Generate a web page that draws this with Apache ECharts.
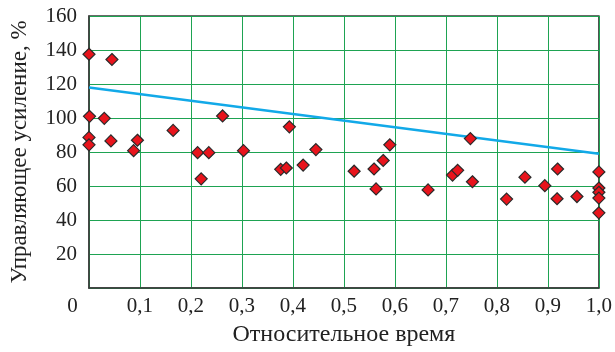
<!DOCTYPE html>
<html>
<head>
<meta charset="utf-8">
<script src="https://cdn.jsdelivr.net/npm/echarts@6/dist/echarts.min.js"></script>
<style>
  html, body { margin: 0; padding: 0; background: #fff; }
  #chart { width: 615px; height: 352px; }
</style>
</head>
<body>
<div id="chart"></div>
<script>
// точки: относительное время / управляющее усиление, %
var relTime = [0, 0.045, 0.001, 0.03, 0, 0, 0.043, 0.165, 0.095, 0.0875,
  0.262, 0.213, 0.235, 0.22, 0.303, 0.393, 0.376, 0.387, 0.42, 0.445,
  0.52, 0.559, 0.577, 0.59, 0.563, 0.665, 0.713, 0.723, 0.748, 0.752,
  0.819, 0.855, 0.894, 0.919, 0.918, 0.957, 1, 1, 1, 1, 1];
var gain = [137.5, 134.4, 101, 99.8, 88.6, 84.2, 86.5, 92.7, 86.9, 80.8,
  101.2, 79.6, 79.6, 64.2, 80.8, 94.8, 69.8, 70.6, 72.3, 81.4,
  68.7, 70, 75, 84.2, 58.3, 57.7, 66.4, 69.2, 87.9, 62.5,
  52.3, 65.2, 60.2, 70, 52.5, 53.8, 68.3, 58.8, 56.3, 52.9, 44.2];

// линия тренда
var trendX = [0, 1];
var trendY = [118, 79];

var yTicks = [20, 40, 60, 80, 100, 120, 140, 160];

var pts = relTime.map(function (t, i) { return [t, gain[i]]; });
var trend = trendX.map(function (t, i) { return [t, trendY[i]]; });

var font = 'Liberation Serif';
var green = '#1ea352';

var chart = echarts.init(document.getElementById('chart'));
chart.setOption({
  animation: false,
  textStyle: { fontFamily: font },
  grid: {
    left: 86, right: 15, top: 16, bottom: 59,
    show: true, borderColor: '#3a3a3a', borderWidth: 1.5
  },
  xAxis: {
    type: 'value',
    min: 0, max: 1, interval: 0.1,
    name: 'Относительное время',
    nameLocation: 'middle',
    nameGap: 35,
    nameTextStyle: { color: '#222', fontSize: 24, fontFamily: font },
    axisLine: { show: true, lineStyle: { color: '#3a3a3a', width: 1.5 } },
    axisTick: { show: false },
    splitLine: { show: true, lineStyle: { color: green, width: 1 } },
    axisLabel: {
      color: '#222', fontSize: 21, fontFamily: font, margin: 8,
      formatter: function (v) {
        if (v === 0) return '{z|0}';
        return v.toFixed(1).replace('.', ',');
      },
      rich: { z: { fontSize: 21, fontFamily: font, color: '#222', padding: [0, 33, 0, 0] } }
    }
  },
  yAxis: {
    type: 'value',
    min: 0, max: 160, interval: 20,
    name: 'Управляющее усиление, %',
    nameLocation: 'middle',
    nameGap: 58,
    nameTextStyle: { color: '#222', fontSize: 23, fontFamily: font },
    axisLine: { show: true, lineStyle: { color: '#3a3a3a', width: 1.5 } },
    axisTick: { show: false },
    splitLine: { show: true, lineStyle: { color: green, width: 1 } },
    axisLabel: {
      color: '#222', fontSize: 21, fontFamily: font, margin: 12,
      formatter: function (v) { return yTicks.indexOf(v) >= 0 ? String(v) : ''; }
    }
  },
  series: [
    {
      type: 'line',
      data: trend,
      symbol: 'none',
      lineStyle: { color: '#12a9e8', width: 2.5 },
      z: 2
    },
    {
      type: 'scatter',
      data: pts,
      symbol: 'diamond',
      symbolSize: [12, 12],
      itemStyle: { color: '#e8141c', opacity: 1, borderColor: '#2a2a2a', borderWidth: 1.2 },
      z: 3
    }
  ]
});
</script>
</body>
</html>
